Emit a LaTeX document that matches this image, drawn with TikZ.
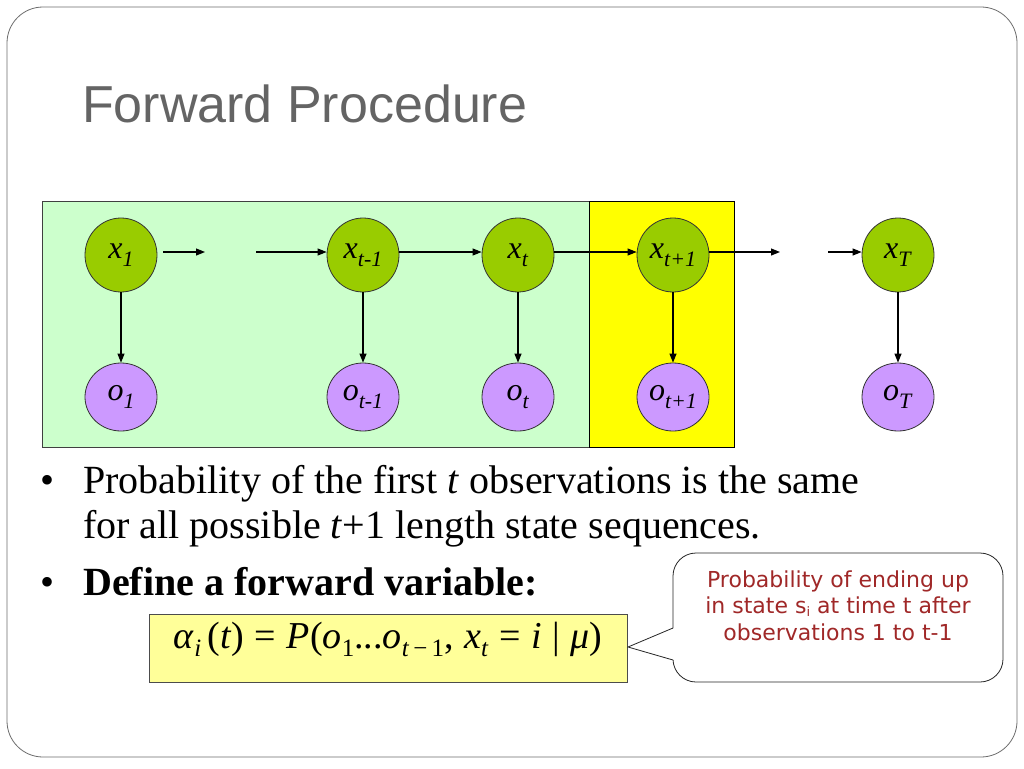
\documentclass[tikz,border=0pt]{standalone}
\usepackage{fontspec}
\setmainfont{Liberation Serif}
\newfontfamily\titlefont{Liberation Sans}
\newfontfamily\callfont{DejaVu Sans}
\usetikzlibrary{arrows.meta,shapes.geometric}
\definecolor{framegray}{RGB}{110,110,110}
\definecolor{titlegray}{RGB}{100,100,100}
\definecolor{greenbg}{RGB}{204,255,204}
\definecolor{yellowbg}{RGB}{255,255,0}
\definecolor{xfill}{RGB}{153,204,0}
\definecolor{ofill}{RGB}{204,153,255}
\definecolor{formfill}{RGB}{255,255,153}
\definecolor{calltext}{RGB}{160,40,40}
\newcommand\nlab[2]{\fontsize{32}{36}\selectfont\textit{#1}\raisebox{-8pt}{\fontsize{22}{24}\selectfont\textit{#2}}}
\newcommand\fsub[1]{\raisebox{-8pt}{\fontsize{25}{27}\selectfont #1}}
\tikzset{
  xnode/.style={ellipse, draw=black!80, line width=0.8pt, fill=xfill, minimum width=72pt, minimum height=74pt, inner sep=0pt},
  onode/.style={ellipse, draw=black!80, line width=0.8pt, fill=ofill, minimum width=72pt, minimum height=68pt, inner sep=0pt},
  arr/.style={line width=1.1pt, -{Triangle[length=9pt,width=7pt]}},
  txt/.style={anchor=base west, inner sep=0pt, font=\fontsize{40}{45}\selectfont}
}
\begin{document}
\begin{tikzpicture}[x=1pt,y=-1pt]
\useasboundingbox (0,0) rectangle (1024,768);
\fill[white] (0,0) rectangle (1024,768);
\draw[framegray, line width=0.8pt, rounded corners=36pt] (7,7) rectangle (1017,757);
% title
\node[anchor=base west, inner sep=0pt, text=titlegray, font=\titlefont\fontsize{52}{60}\selectfont] (title) at (82,122) {Forward Procedure};
% background boxes
\draw[fill=greenbg, draw=black!75, line width=0.8pt] (42,201) rectangle (589,447);
\draw[fill=yellowbg, draw=black, line width=0.8pt] (589,201) rectangle (734,447);
% state nodes
\node[xnode] (x1) at (121,255) {\nlab{x}{1}};
\node[xnode] (xtm) at (363,255) {\nlab{x}{t-1}};
\node[xnode] (xt) at (518,255) {\nlab{x}{t}};
\node[xnode] (xtp) at (673,255) {\nlab{x}{t+1}};
\node[xnode] (xT) at (898,255) {\nlab{x}{T}};
% observation nodes
\node[onode] (o1) at (121,397) {\nlab{o}{1}};
\node[onode] (otm) at (363,397) {\nlab{o}{t-1}};
\node[onode] (ot) at (518,397) {\nlab{o}{t}};
\node[onode] (otp) at (673,397) {\nlab{o}{t+1}};
\node[onode] (oT) at (898,397) {\nlab{o}{T}};
% free ends
\coordinate (d1) at (205,252);
\coordinate (d2) at (256,252);
\coordinate (d3) at (780,252);
\coordinate (d4) at (828,252);
% horizontal arrows
\draw[arr] ([xshift=6pt,yshift=3pt]x1.east) -- (d1);
\draw[arr] (d2) -- (d2 -| xtm.west);
\draw[arr] ([yshift=3pt]xtm.east) -- ([yshift=3pt]xt.west);
\draw[arr] ([yshift=3pt]xt.east) -- ([yshift=3pt]xtp.west);
\draw[arr] ([yshift=3pt]xtp.east) -- (d3);
\draw[arr] (d4) -- (d4 -| xT.west);
% vertical arrows
\draw[arr] (x1) -- (o1);
\draw[arr] (xtm) -- (otm);
\draw[arr] (xt) -- (ot);
\draw[arr] (xtp) -- (otp);
\draw[arr] (xT) -- (oT);
% bullets
\node[txt] (b1) at (40,493) {•};
\node[txt] (l1) at (83,493) {Probability of the first \textit{t} observations is the same};
\node[txt] (l2) at (83,538) {for all possible \textit{t}+1 length state sequences.};
\node[txt] (b2) at (40,595) {•};
\node[txt, font=\fontsize{40}{45}\selectfont\bfseries] (l3) at (83,595) {Define a forward variable:};
% formula box
\draw[fill=formfill, draw=black!70, line width=0.8pt] (149,614) rectangle (627,682);
\node[anchor=base, inner sep=0pt, font=\fontsize{38}{40}\selectfont] (form) at (388,648)
  {\textit{α}\fsub{\textit{i}}\,(\textit{t})\;=\;\textit{P}(\textit{o}\fsub{1}...\textit{o}\fsub{\textit{t}\,−\,1},\;\textit{x}\fsub{\textit{t}}\;=\;\textit{i}\;|\;\textit{μ})};
% callout
\draw[fill=white, draw=black!85, line width=0.8pt, rounded corners=23pt] (673,553) rectangle (1003,682);
\coordinate (tip) at (628,647);
\fill[white] (674.2,628) -- (tip) -- (674.2,660) -- cycle;
\draw[black!85, line width=0.8pt] (673,628) -- (tip) -- (673,660);
\node[anchor=base, inner sep=0pt, align=center, text=calltext, font=\callfont\fontsize{22}{26.8}\selectfont] (calltxt) at (838,640.6)
  {Probability of ending up\\in state s\raisebox{-3pt}{\fontsize{13}{14}\selectfont i} at time t after\\observations 1 to t-1};
\end{tikzpicture}
\end{document}
